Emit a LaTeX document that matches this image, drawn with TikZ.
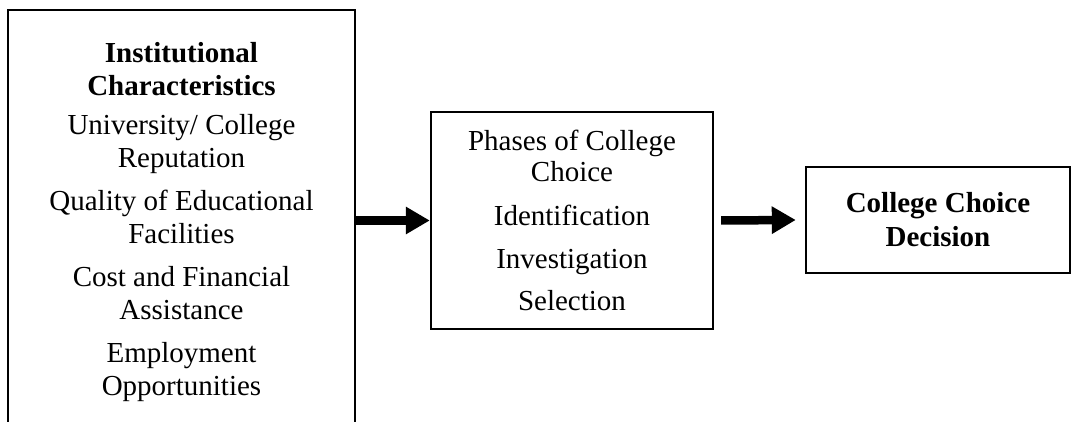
\documentclass[tikz,border=0pt]{standalone}
\usepackage{fontspec}
\setmainfont{Liberation Serif}
\usetikzlibrary{arrows.meta}
\begin{document}
\begin{tikzpicture}[x=1pt,y=-1pt,
  box/.style={draw, line width=2.4pt, align=center, inner sep=0pt, font=\fontsize{29}{33}\selectfont},
  bigarrow/.style={line width=8.5pt, -{Triangle[length=24pt,width=26pt]}}]
\path[use as bounding box, clip] (0,0) rectangle (1072,422);
\node[box, minimum width=347pt, minimum height=425pt] (inst) at (181.5,222.5)
  {\textbf{Institutional}\\\textbf{Characteristics}\\[6pt]
   University/ College\\Reputation\\[10pt]
   Quality of Educational\\Facilities\\[10pt]
   Cost and Financial\\Assistance\\[10pt]
   Employment\\Opportunities};
\node[box, font=\fontsize{29}{31}\selectfont, minimum width=282pt, minimum height=217pt] (phases) at (572,220.5)
  {Phases of College\\Choice\\[13pt]
   Identification\\[12pt]
   Investigation\\[11pt]
   Selection};
\node[box, font=\bfseries\fontsize{29}{34}\selectfont, minimum width=264pt, minimum height=106pt] (decision) at (938,220)
  {College Choice\\Decision};
\draw[bigarrow] (inst.east |- phases.west) -- (phases.west);
\draw[bigarrow] ([xshift=7pt]phases.east) -- ([xshift=-9pt]decision.west);
\end{tikzpicture}
\end{document}
